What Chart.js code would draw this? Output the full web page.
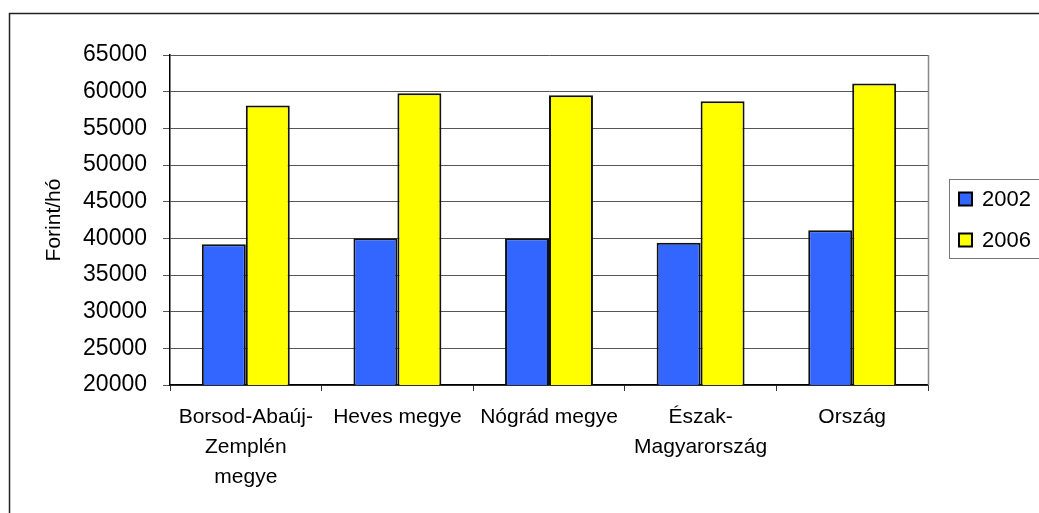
<!DOCTYPE html>
<html>
<head>
<meta charset="utf-8">
<script src="https://cdn.jsdelivr.net/npm/chart.js@4/dist/chart.umd.min.js"></script>
<style>
  html, body { margin: 0; padding: 0; background: #fff; }
  #wrap { width: 1039px; height: 513px; }
</style>
</head>
<body>
<div id="wrap"><canvas id="chart" width="1039" height="513"></canvas></div>
<script>
// Kategóriák és értékek (Forint/hó)
const categories = [
    ['Borsod-Abaúj-', 'Zemplén', 'megye'],
    'Heves megye',
    'Nógrád megye',
    ['Észak-', 'Magyarország'],
    'Ország'
];
const values2002 = [39200, 40000, 40000, 39400, 41100];
const values2006 = [58100, 59800, 59500, 58700, 61100];
const seriesNames = ['2002', '2006'];
const yTicks = [20000, 25000, 30000, 35000, 40000, 45000, 50000, 55000, 60000, 65000];

const FONT = 'Liberation Sans, Arial, sans-serif';

// keret, jobb oldali vonal és jelmagyarázat
const framePlugin = {
    id: 'frame',
    afterDraw(chart) {
        const ctx = chart.ctx;
        const area = chart.chartArea;
        ctx.save();
        // külső keret
        ctx.strokeStyle = '#222';
        ctx.lineWidth = 1.5;
        ctx.strokeRect(9.5, 13.5, 1200, 700);
        // rajzterület jobb széle
        ctx.strokeStyle = '#888';
        ctx.lineWidth = 1.5;
        ctx.beginPath();
        ctx.moveTo(area.right + 0.5, area.top);
        ctx.lineTo(area.right + 0.5, area.bottom);
        ctx.stroke();
        // jelmagyarázat
        ctx.fillStyle = '#fff';
        ctx.fillRect(949, 179, 120, 79);
        ctx.strokeStyle = '#777';
        ctx.lineWidth = 1;
        ctx.strokeRect(949.5, 179.5, 120, 79);
        ctx.font = '22px ' + FONT;
        ctx.textBaseline = 'middle';
        const ys = [199, 240];
        chart.data.datasets.forEach((ds, i) => {
            ctx.fillStyle = ds.backgroundColor;
            ctx.fillRect(959, ys[i] - 6.5, 13, 13);
            ctx.strokeStyle = '#000';
            ctx.lineWidth = 2;
            ctx.strokeRect(959, ys[i] - 6.5, 13, 13);
            ctx.fillStyle = '#000';
            ctx.fillText(ds.label, 982, ys[i] + 1);
        });
        ctx.restore();
    }
};

const ctxWage = document.getElementById('chart').getContext('2d');
new Chart(ctxWage, {
    type: 'bar',
    data: {
        labels: categories,
        datasets: [{
            label: seriesNames[0],
            data: values2002,
            backgroundColor: '#3366FF',
            borderColor: '#111',
            borderWidth: 2
        }, {
            label: seriesNames[1],
            data: values2006,
            backgroundColor: '#FFFF00',
            borderColor: '#111',
            borderWidth: 2
        }]
    },
    options: {
        responsive: false,
        animation: false,
        layout: { padding: { left: 0, top: 55, right: 111, bottom: 0 } },
        plugins: {
            legend: { display: false },
            tooltip: { enabled: false }
        },
        datasets: {
            bar: { categoryPercentage: 0.58, barPercentage: 1 }
        },
        scales: {
            x: {
                grid: { drawOnChartArea: false, tickLength: 6, color: '#333', offset: true },
                border: { color: '#000', width: 1.5 },
                ticks: {
                    color: '#000',
                    padding: 11,
                    maxRotation: 0,
                    autoSkip: false,
                    font: { family: FONT, size: 21, lineHeight: 1.43 }
                },
                afterFit: scale => { scale.height = 128; }
            },
            y: {
                min: 20000,
                max: 65000,
                afterBuildTicks: scale => { scale.ticks = yTicks.map(v => ({ value: v })); },
                grid: { color: '#555', lineWidth: 1, tickLength: 7 },
                border: { color: '#000', width: 1.5 },
                ticks: {
                    color: '#000',
                    padding: 16,
                    font: { family: FONT, size: 23 },
                    callback: v => String(v)
                },
                title: {
                    display: true,
                    text: 'Forint/hó',
                    color: '#000',
                    padding: { top: 42, bottom: 0 },
                    font: { family: FONT, size: 21 }
                },
                afterFit: scale => { scale.width = 170; }
            }
        }
    },
    plugins: [framePlugin]
});
</script>
</body>
</html>
